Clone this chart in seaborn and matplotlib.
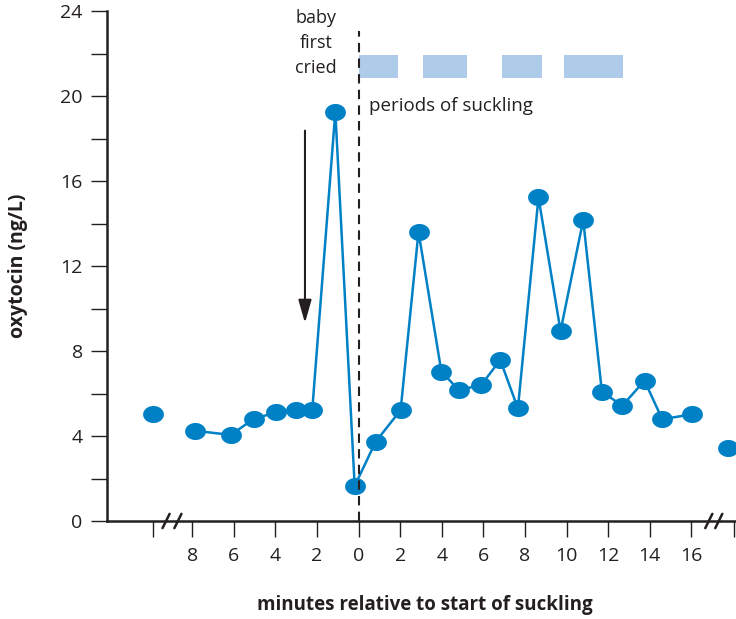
import matplotlib
matplotlib.use("Agg")
import matplotlib.pyplot as plt
from matplotlib.path import Path
import matplotlib.transforms as mtransforms
import numpy as np
import pandas as pd
import seaborn as sns

# Data
minutes = [-7.88, -6.15, -5.05, -3.96, -3.0, -2.23, -1.12, -0.19, 0.82, 2.02, 2.88,
           3.98, 4.82, 5.9, 6.81, 7.66, 8.65, 9.71, 10.8, 11.7, 12.68, 13.75, 14.6, 16.02]
oxytocin = [4.25, 4.05, 4.8, 5.12, 5.22, 5.22, 19.26, 1.65, 3.73, 5.22, 13.61,
            7.03, 6.16, 6.4, 7.58, 5.3, 15.23, 8.94, 14.16, 6.08, 5.43, 6.6, 4.79, 5.02]
# isolated points beyond the axis breaks
break_minutes = [-9.9, 17.75]
break_oxytocin = [5.02, 3.42]
# periods of suckling (start, end) in minutes
suckling = [(0.0, 1.9), (3.1, 5.2), (6.9, 8.8), (9.9, 12.7)]

x_ticks = [-9.9, -8, -6, -4, -2, 0, 2, 4, 6, 8, 10, 12, 14, 16, 18.05]
x_labels = ['', '8', '6', '4', '2', '0', '2', '4', '6', '8', '10', '12', '14', '16', '']
y_ticks = list(range(0, 25, 2))
y_labels = [str(v) if v % 4 == 0 else '' for v in y_ticks]

BLUE = '#0081c6'
DARK = '#231f20'
LIGHT = '#aecbea'

sns.set_style("ticks")
plt.rcParams['font.family'] = ['Open Sans', 'DejaVu Sans']

# slightly wide ellipse marker
th = np.linspace(0, 2 * np.pi, 60)
ellipse = Path(np.column_stack([np.cos(th), 0.82 * np.sin(th)]))

fig = plt.figure(figsize=(7.36, 6.19), dpi=100)
ax = fig.add_axes([107 / 736, 1 - 521 / 619, 628 / 736, 510 / 619])

df = pd.DataFrame({'minutes': minutes, 'oxytocin': oxytocin})
sns.lineplot(data=df, x='minutes', y='oxytocin', ax=ax, color=BLUE, linewidth=1.8,
             marker=ellipse, markersize=15, markeredgewidth=0, zorder=3)
ax.plot(break_minutes, break_oxytocin, linestyle='none', marker=ellipse,
        markersize=15, color=BLUE, markeredgewidth=0, zorder=3, clip_on=False)

# suckling periods
for start, end in suckling:
    ax.fill_between([start, end], 20.85, 21.93, color=LIGHT, linewidth=0, zorder=2)

# dashed line at start of suckling
ax.plot([0, 0], [0, 23.05], color=DARK, linestyle=(0, (4.5, 3)), linewidth=1.5, zorder=4)

# arrow
ax.annotate('', xy=(-2.58, 9.32), xytext=(-2.58, 18.37),
            arrowprops=dict(arrowstyle='-|>,head_length=1.4,head_width=0.4',
                            color=DARK, linewidth=1.5, shrinkA=0, shrinkB=0))

ax.text(-2.05, 23.67, 'baby', ha='center', va='center', fontsize=13, color=DARK)
ax.text(-2.05, 22.49, 'first', ha='center', va='center', fontsize=13, color=DARK)
ax.text(-2.05, 21.32, 'cried', ha='center', va='center', fontsize=13, color=DARK)
ax.text(0.5, 19.55, 'periods of suckling', ha='left', va='center', fontsize=13.5, color=DARK)

ax.set_xlim(-12.1, 18.1)
ax.set_ylim(0, 24)
ax.set_xticks(x_ticks)
ax.set_xticklabels(x_labels)
ax.set_yticks(y_ticks)
ax.set_yticklabels(y_labels)
ax.tick_params(axis='both', length=11.5, width=1.0, color=DARK, labelcolor=DARK, labelsize=14)
ax.tick_params(axis='x', pad=7)
ax.tick_params(axis='y', pad=6)
sns.despine(ax=ax)
for side in ['left', 'bottom']:
    ax.spines[side].set_linewidth(1.8)
    ax.spines[side].set_color(DARK)

# axis break marks
trans = mtransforms.blended_transform_factory(ax.transData, ax.transAxes)
for xb in [-9.26, -8.69, 16.84, 17.32]:
    ax.plot([xb - 0.17, xb + 0.17], [-0.014, 0.014], color=DARK, linewidth=1.8,
            transform=trans, clip_on=False, zorder=5)

ax.set_xlabel('')
ax.set_ylabel('')
fig.text(18 / 736, 1 - 266 / 619, 'oxytocin (ng/L)', rotation=90, ha='center', va='center',
         fontsize=14, fontweight='bold', color=DARK)
fig.text(425 / 736, 1 - 605 / 619, 'minutes relative to start of suckling', ha='center',
         va='center', fontsize=13.5, fontweight='bold', color=DARK)

fig.savefig('out.png', dpi=100)
